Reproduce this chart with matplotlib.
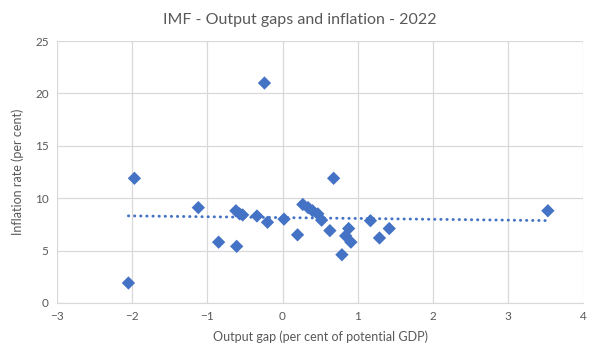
import numpy as np
import matplotlib.pyplot as plt

plt.rcParams['font.family'] = ['Lato', 'DejaVu Sans']

# output gap (% of potential GDP) and inflation rate (%), 2022
output_gap = [-2.05, -1.97, -1.12, -0.85, -0.61, -0.62, -0.57, -0.53, -0.34, -0.24,
              -0.20, 0.02, 0.20, 0.27, 0.34, 0.40, 0.47, 0.52, 0.63, 0.68,
              0.79, 0.84, 0.88, 0.91, 1.17, 1.29, 1.42, 3.53]
inflation = [1.9, 11.9, 9.1, 5.8, 5.4, 8.8, 8.5, 8.4, 8.3, 21.0,
             7.7, 8.0, 6.5, 9.4, 9.1, 8.8, 8.5, 7.9, 6.9, 11.9,
             4.6, 6.4, 7.1, 5.8, 7.85, 6.2, 7.1, 8.8]

xticks = [-3, -2, -1, 0, 1, 2, 3, 4]
yticks = [0, 5, 10, 15, 20, 25]

blue = '#4472C4'
grey_text = '#595959'
grid = '#d9d9d9'

fig = plt.figure(figsize=(6, 3.61), dpi=100)
ax = fig.add_axes([0.095, 0.161, 0.877, 0.725])

x = np.array(output_gap)
y = np.array(inflation)

# linear trendline like Excel
slope, intercept = np.polyfit(x, y, 1)
xs = np.array([x.min(), x.max()])
ax.plot(xs, slope * xs + intercept, color=blue, lw=2.1,
        linestyle=(0, (0.1, 2.0)), dash_capstyle='round', zorder=2)

ax.scatter(x, y, marker='D', s=46, color=blue, edgecolors='none', zorder=3)

ax.set_xlim(-3, 4)
ax.set_ylim(0, 25)
ax.set_xticks(xticks)
ax.set_yticks(yticks)
ax.grid(True, color=grid, lw=0.9)
ax.set_axisbelow(True)
for s in ['top', 'right', 'left']:
    ax.spines[s].set_visible(False)
ax.spines['bottom'].set_color(grid)
ax.tick_params(length=0, labelsize=8.5, colors=grey_text, pad=6)

ax.set_xlabel("Output gap (per cent of potential GDP)", fontsize=9, color=grey_text, labelpad=6)
ax.set_ylabel("Inflation rate (per cent)", fontsize=9, color=grey_text, labelpad=8)
fig.suptitle("IMF - Output gaps and inflation - 2022", fontsize=11.5, color=grey_text, y=0.965)

fig.savefig("out.png", dpi=100)
